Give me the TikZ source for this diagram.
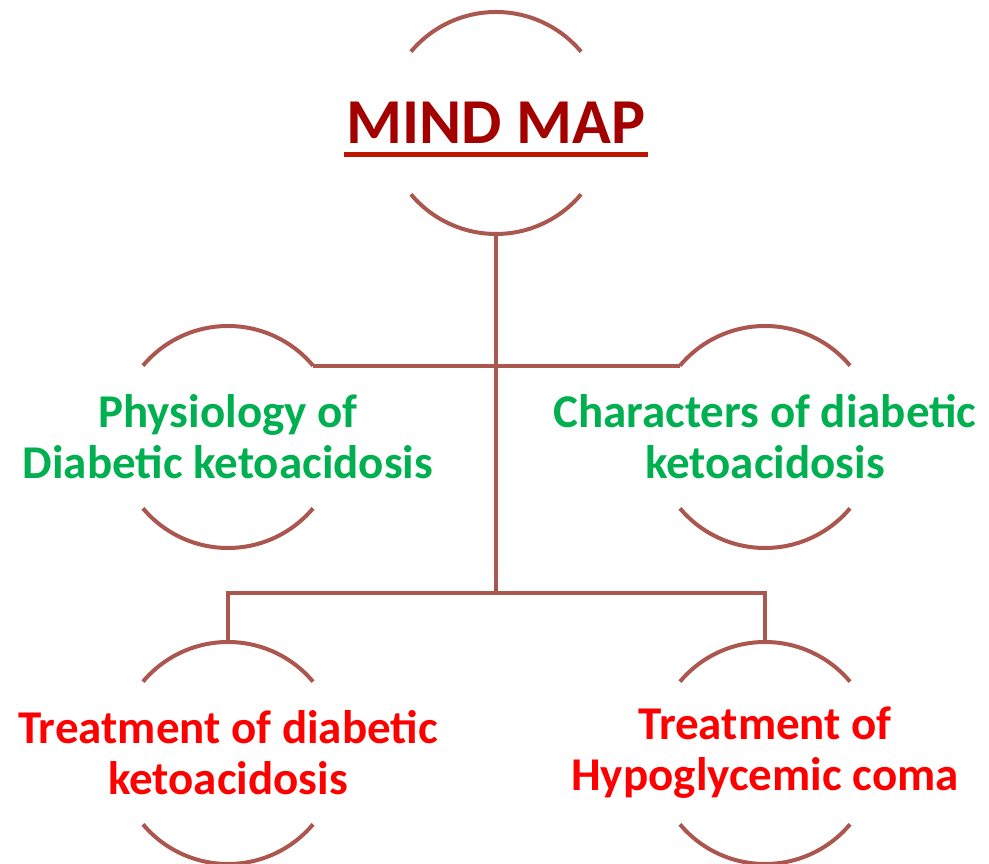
\documentclass[tikz,border=0pt]{standalone}
\usepackage{fontspec}
\setmainfont{Carlito}
\usepackage{tikz}
\definecolor{ringbrown}{HTML}{AB5750}
\definecolor{titlered}{HTML}{A30000}
\definecolor{ulred}{HTML}{BE1600}
\definecolor{leafgreen}{HTML}{00B050}
\definecolor{leafred}{HTML}{FF0000}
\tikzset{
  topic/.style  = {align=center, inner sep=2pt,
                   font=\bfseries\fontsize{47}{51}\selectfont},
  hub/.style    = {topic, inner sep=2pt, text=titlered,
                   font=\bfseries\fontsize{64}{64}\selectfont},
  branch/.style = {topic, text=leafgreen},
  leaf/.style   = {topic, text=leafred},
  link/.style   = {draw=ringbrown, line width=4pt},
  ring/.style   = {link}
}
\newcommand{\ringarcs}[1]{%
  \draw[ring] ([shift={(40:111pt)}]#1.center) arc[start angle=40, end angle=140, radius=111pt];
  \draw[ring] ([shift={(220:111pt)}]#1.center) arc[start angle=220, end angle=320, radius=111pt];}

\begin{document}
\begin{tikzpicture}[x=1pt,y=1pt]
 \useasboundingbox (0,0) rectangle (989,864);

 \node[hub]    (map)  at (496,741) {MIND MAP};
 \node[branch] (phys) at (228,427) {Physiology of\\Diabetic ketoacidosis};
 \node[branch] (char) at (765,427) {Characters of diabetic\\ketoacidosis};
 \node[leaf]   (tdka) at (228,111) {Treatment of diabetic\\ketoacidosis};
 \node[leaf]   (thyp) at (765,111) {Treatment of\\Hypoglycemic coma};

 % underline of the title
 \draw[draw=ulred, line width=5pt]
   ([yshift=-11pt]map.base west) -- ([yshift=-11pt]map.base east);

 \foreach \n in {map,phys,char,tdka,thyp}
   {\ringarcs{\n}}

 \coordinate (lower) at (496,271);
 \draw[link] ([shift={(270:111pt)}]map.center) -- (lower);
 \draw[link] ([shift={(40:111pt)}]phys.center) -- ([shift={(140:111pt)}]char.center);
 \draw[link] ([shift={(90:111pt)}]tdka.center) |- (lower)
             -| ([shift={(90:111pt)}]thyp.center);
\end{tikzpicture}
\end{document}
